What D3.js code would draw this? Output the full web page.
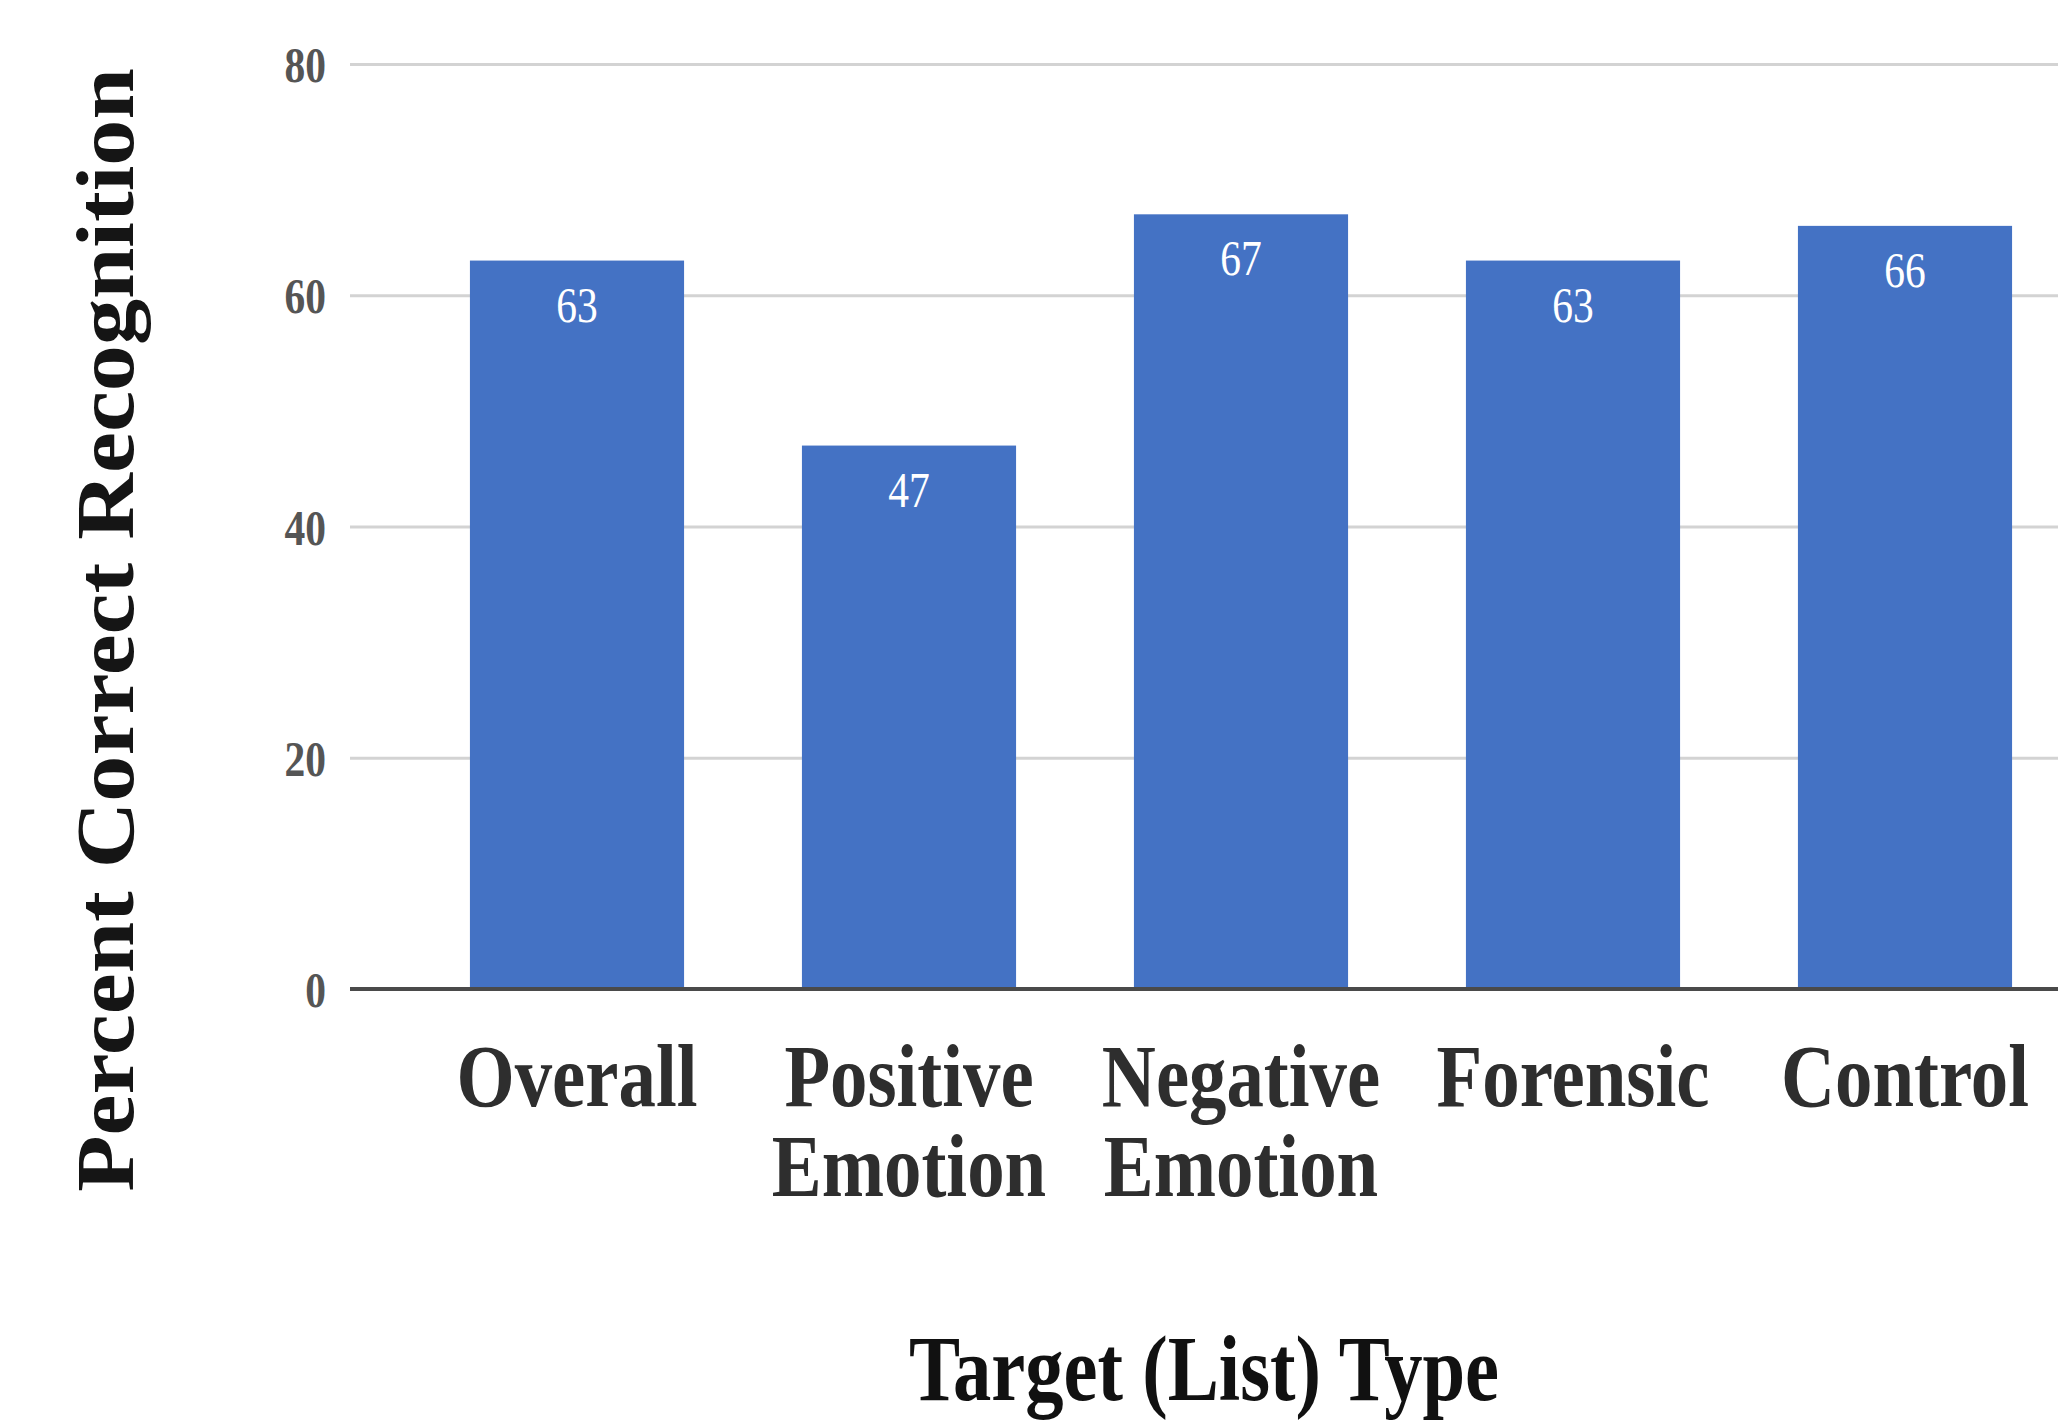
<!DOCTYPE html>
<html>
<head>
<meta charset="utf-8">
<script src="https://cdn.jsdelivr.net/npm/d3@7"></script>
<style>
  html, body { margin: 0; padding: 0; background: #ffffff; }
  svg { display: block; }
</style>
</head>
<body>
<svg id="chart" width="2058" height="1427"></svg>
<script>
// Recognition accuracy by target list type
const categories = ["Overall", "Positive Emotion", "Negative Emotion", "Forensic", "Control"];
const values = [63, 47, 67, 63, 66];
const yTicks = [0, 20, 40, 60, 80];
const xTitle = "Target (List) Type";
const yTitle = "Percent Correct Recognition";

const W = 2058, H = 1427;
const serif = "'Liberation Serif', 'Times New Roman', serif";
const squeeze = 0.85;

const svg = d3.select("#chart");
svg.append("rect").attr("width", W).attr("height", H).attr("fill", "#ffffff");

const x = d3.scaleBand()
  .domain(categories)
  .range([411, 2071])
  .paddingInner(0.355)
  .paddingOuter(0.1775);

const y = d3.scaleLinear().domain([0, 80]).range([989, 64]);

// horizontal gridlines
const grid = svg.append("g")
  .attr("transform", "translate(350,0)")
  .call(d3.axisLeft(y).tickValues(yTicks).tickSize(-(W - 350)).tickFormat(""));
grid.select(".domain").remove();
grid.selectAll(".tick line").attr("stroke", "#d3d3d3").attr("stroke-width", 3);

// y tick labels
const yAxis = svg.append("g")
  .attr("transform", "translate(326,0)")
  .call(d3.axisLeft(y).tickValues(yTicks).tickSize(0).tickPadding(0));
yAxis.select(".domain").remove();
yAxis.selectAll(".tick text")
  .attr("font-family", serif)
  .attr("font-weight", "bold")
  .attr("font-size", 50)
  .attr("fill", "#555555")
  .attr("dy", "0.35em")
  .attr("transform", `scale(${squeeze - 0.02},1)`);

// bars
svg.append("g").selectAll("rect")
  .data(categories)
  .join("rect")
  .attr("x", d => x(d))
  .attr("y", (d, i) => y(values[i]))
  .attr("width", x.bandwidth())
  .attr("height", (d, i) => y(0) - y(values[i]))
  .attr("fill", "#4472c4");

// zero baseline
svg.append("line")
  .attr("x1", 350).attr("x2", W)
  .attr("y1", y(0)).attr("y2", y(0))
  .attr("stroke", "#4a4a4a")
  .attr("stroke-width", 4);

// value labels inside bars
svg.append("g").selectAll("text")
  .data(categories)
  .join("text")
  .attr("transform", (d, i) => `translate(${x(d) + x.bandwidth() / 2},${y(values[i]) + 61}) scale(${squeeze - 0.02},1)`)
  .attr("text-anchor", "middle")
  .attr("font-family", serif)
  .attr("font-size", 50)
  .attr("fill", "#ffffff")
  .text((d, i) => values[i]);

// category labels (one word per line)
const xAxis = svg.append("g")
  .attr("transform", "translate(0,1106)")
  .call(d3.axisBottom(x).tickSize(0).tickPadding(0));
xAxis.select(".domain").remove();
xAxis.selectAll(".tick text").each(function(d) {
  const t = d3.select(this);
  const words = d.split(" ");
  t.text(null)
    .attr("y", 0)
    .attr("dy", null)
    .attr("font-family", serif)
    .attr("font-weight", "bold")
    .attr("font-size", 88)
    .attr("fill", "#2e2e2e")
    .attr("text-anchor", "middle")
    .attr("transform", `scale(${squeeze},1)`);
  words.forEach((w, k) => {
    t.append("tspan").attr("x", 0).attr("y", k * 90).text(w);
  });
});

// axis titles
svg.append("text")
  .attr("transform", `translate(1204,1400) scale(0.815,1)`)
  .attr("text-anchor", "middle")
  .attr("font-family", serif)
  .attr("font-weight", "bold")
  .attr("font-size", 94)
  .attr("fill", "#111111")
  .text(xTitle);

svg.append("text")
  .attr("transform", `translate(133,630) rotate(-90) scale(1.125,1)`)
  .attr("text-anchor", "middle")
  .attr("font-family", serif)
  .attr("font-weight", "bold")
  .attr("font-size", 82)
  .attr("fill", "#151515")
  .text(yTitle);
</script>
</body>
</html>
